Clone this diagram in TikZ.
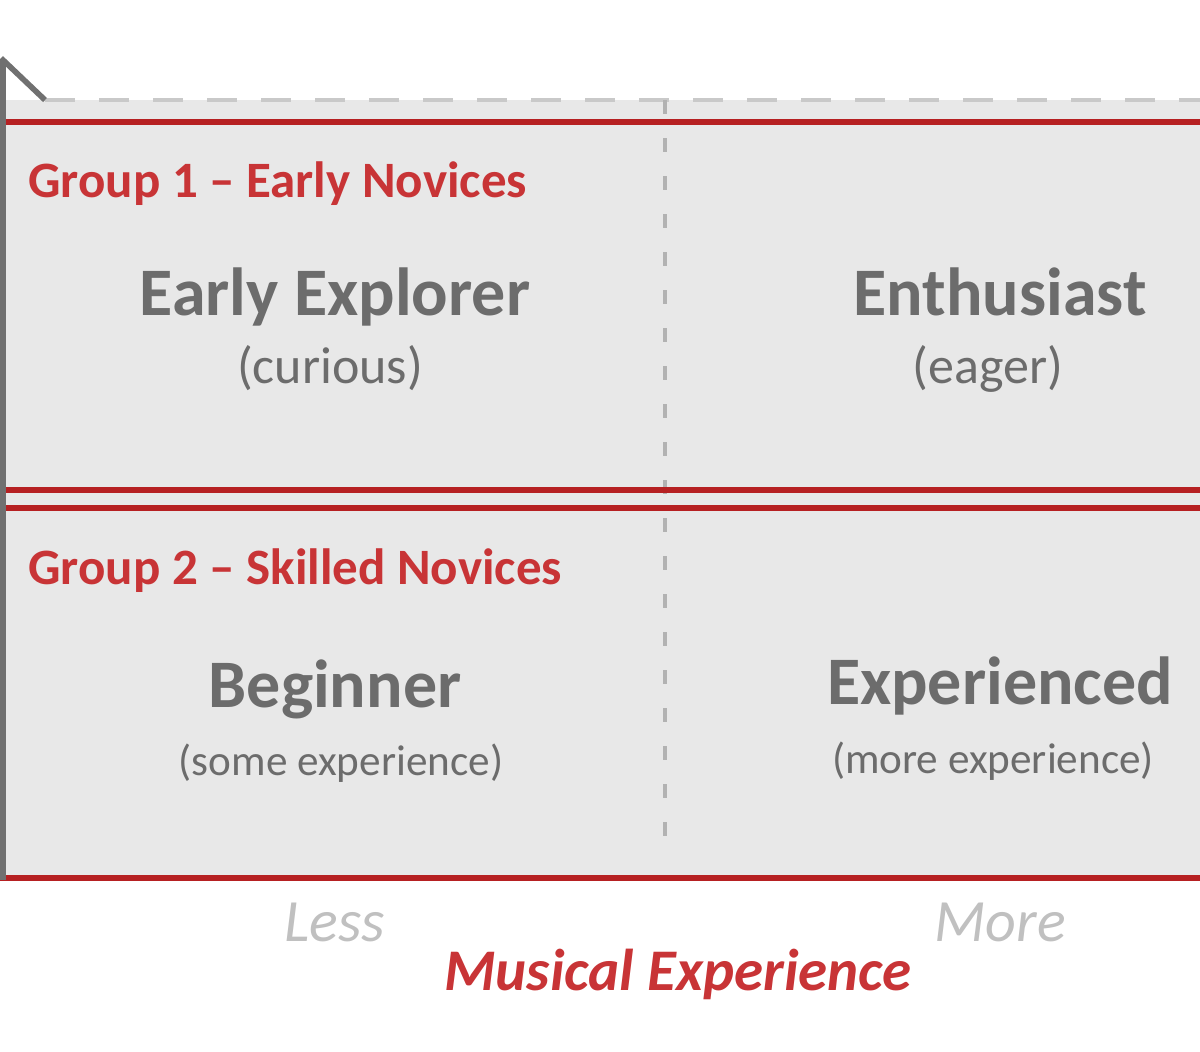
\documentclass[tikz,border=0pt]{standalone}
\usepackage{fontspec}
\setmainfont{Carlito}
\usetikzlibrary{positioning}
\definecolor{custom-red}{RGB}{182, 32, 34}
\definecolor{custom-redtext}{RGB}{200, 52, 54}
\definecolor{custom-fill}{RGB}{232, 232, 232}
\definecolor{custom-grey}{RGB}{108, 108, 108}
\definecolor{custom-light}{RGB}{192, 192, 192}
\definecolor{custom-axis}{RGB}{112, 112, 112}
\definecolor{custom-dash}{RGB}{178, 178, 178}

\begin{document}
\begin{tikzpicture}[x=0.5pt, y=-0.5pt,
    group/.style={anchor=base west, inner sep=0pt, text=custom-redtext, font=\bfseries\fontsize{25.5}{30}\selectfont},
    persona/.style={anchor=base, text=custom-grey, font=\bfseries\fontsize{34}{39}\selectfont},
    note/.style={anchor=base, text=custom-grey, font=\fontsize{21.6}{26}\selectfont},
    bignote/.style={note, font=\fontsize{26}{30}\selectfont},
    level/.style={anchor=base, text=custom-light, font=\itshape\fontsize{30}{34}\selectfont},
    band/.style={draw=custom-red, line width=3pt}]
\useasboundingbox (0,0) rectangle (1200,1051);
\clip (0,0) rectangle (1200,1051);
\fill[custom-fill] (3,100) rectangle (1230,880);
% guides
\coordinate (topleft) at (45,100);
\coordinate (topright) at (1230,100);
\coordinate (midtop) at (665,100);
\coordinate (midbot) at (665,852);
\draw[custom-dash!70, line width=2pt, dash pattern=on 15pt off 12pt] (topleft) -- (topright);
\draw[custom-dash, line width=1.6pt, dash pattern=on 7pt off 12pt] (midtop) -- (midbot);
% the two groups
\draw[band] (3,122) rectangle (1230,490);
\draw[band] (3,508) rectangle (1230,878);
% vertical axis
\coordinate (origin) at (3,880);
\coordinate (tip) at (3,60);
\draw[custom-axis, line width=2.8pt] (origin) -- (tip);
\draw[custom-axis, line width=2.8pt] (-39,100) -- (tip) -- (topleft);
% labels
\node[group] (groupone) at (28,197) {Group 1 – Early Novices};
\node[persona] (explorer) at (335,315) {Early Explorer};
\node[bignote] (curious) at (330,383) {(curious)};
\node[persona] (enthusiast) at (1000,315) {Enthusiast};
\node[bignote] (eager) at (988,383) {(eager)};
\node[group] (grouptwo) at (28,584) {Group 2 – Skilled Novices};
\node[persona] (beginner) at (335,707) {Beginner};
\node[note] (some) at (341,775) {(some experience)};
\node[persona] (experienced) at (1000,704) {Experienced};
\node[note] (more) at (993,773) {(more experience)};
\node[level] (less) at (335,941) {Less};
\node[level] (morelevel) at (1000,941) {More};
\node[anchor=base, text=custom-redtext, font=\bfseries\itshape\fontsize{29.5}{34}\selectfont] (axislabel) at (678,990) {Musical Experience};
\end{tikzpicture}
\end{document}
